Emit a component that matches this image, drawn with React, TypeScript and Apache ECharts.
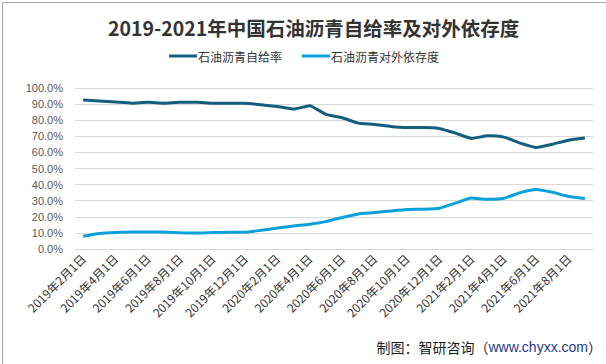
import React, { useEffect, useRef } from "react";
import * as echarts from "echarts";

const categories = [
  "2019年2月1日", "2019年3月1日", "2019年4月1日", "2019年5月1日", "2019年6月1日", "2019年7月1日",
  "2019年8月1日", "2019年9月1日", "2019年10月1日", "2019年11月1日", "2019年12月1日",
  "2020年1月1日", "2020年2月1日", "2020年3月1日", "2020年4月1日", "2020年5月1日", "2020年6月1日",
  "2020年7月1日", "2020年8月1日", "2020年9月1日", "2020年10月1日", "2020年11月1日", "2020年12月1日",
  "2021年1月1日", "2021年2月1日", "2021年3月1日", "2021年4月1日", "2021年5月1日", "2021年6月1日",
  "2021年7月1日", "2021年8月1日", "2021年9月1日",
];

const selfSufficiency = [
  92.5, 91.9, 91.3, 90.6, 91.2, 90.6, 91.2, 91.2, 90.6, 90.6, 90.6,
  89.6, 88.5, 86.9, 89.0, 83.6, 81.5, 78.2, 77.4, 76.1, 75.5, 75.5, 74.9,
  72.0, 68.7, 70.3, 69.5, 65.8, 63.1, 65.1, 67.6, 68.9,
];

const importDependence = [
  7.9, 9.6, 10.3, 10.6, 10.6, 10.6, 10.1, 9.9, 10.2, 10.4, 10.4,
  11.6, 13.0, 14.3, 15.4, 17.0, 19.6, 21.8, 22.6, 23.6, 24.5, 24.7, 25.3,
  28.5, 31.6, 30.9, 31.5, 35.0, 37.0, 35.2, 32.6, 31.3,
];

const seriesNames = ["石油沥青自给率", "石油沥青对外依存度"];
const title = "2019-2021年中国石油沥青自给率及对外依存度";

export default function App() {
  const ref = useRef<HTMLDivElement>(null);
  useEffect(() => {
    document.body.style.margin = "0";
    const chart = echarts.init(ref.current!, null, { renderer: "svg" });
    chart.setOption({
      animation: false,
      backgroundColor: "#ffffff",
      title: {
        text: title,
        left: 103,
        top: 13,
        textStyle: {
          fontFamily: "'Noto Sans CJK SC', sans-serif",
          fontSize: 19.5,
          fontWeight: "bold",
          color: "#333333",
        },
      },
      legend: {
        top: 45,
        left: 164,
        itemWidth: 28,
        itemHeight: 3,
        itemGap: 20,
        icon: "rect",
        textStyle: {
          fontFamily: "'Noto Sans CJK SC', sans-serif",
          fontSize: 12,
          color: "#333333",
          padding: [0, 0, 0, -4],
        },
        data: seriesNames,
      },
      grid: { left: 75, right: 13, top: 88, bottom: 115, containLabel: false },
      xAxis: {
        type: "category",
        data: categories,
        boundaryGap: true,
        axisTick: { show: false },
        axisLine: { lineStyle: { color: "#d9d9d9" } },
        axisLabel: {
          interval: 1,
          rotate: 45,
          fontSize: 12,
          margin: 7,
          color: "#333333",
          fontFamily: "'Noto Sans CJK SC', sans-serif",
        },
      },
      yAxis: {
        type: "value",
        min: 0,
        max: 100,
        interval: 10,
        axisLine: { show: false },
        axisTick: { show: false },
        splitLine: { lineStyle: { color: "#d9d9d9" } },
        axisLabel: {
          formatter: (v: number) => v.toFixed(1) + "%",
          fontSize: 11,
          color: "#595959",
          margin: 12,
          fontFamily: "'Liberation Sans', sans-serif",
        },
      },
      series: [
        {
          name: seriesNames[0],
          type: "line",
          data: selfSufficiency,
          showSymbol: false,
          smooth: 0.15,
          lineStyle: { width: 3, color: "#145E7D" },
          itemStyle: { color: "#145E7D" },
        },
        {
          name: seriesNames[1],
          type: "line",
          data: importDependence,
          showSymbol: false,
          smooth: 0.15,
          lineStyle: { width: 3, color: "#0AA0DA" },
          itemStyle: { color: "#0AA0DA" },
        },
      ],
      graphic: [
        {
          type: "rect",
          left: 0,
          top: 0,
          shape: { width: 605, height: 363 },
          style: { fill: "none", stroke: "#a6a6a6", lineWidth: 1 },
          silent: true,
        },
        {
          type: "text",
          right: 4,
          top: 340,
          style: {
            rich: {
              a: { fontSize: 14, fill: "#1a1a1a", fontFamily: "'Noto Sans CJK SC', sans-serif" },
              b: { fontSize: 14, fill: "#1f3a8a", fontFamily: "'Liberation Sans', sans-serif" },
            },
            text: "{a|制图：智研咨询（}{b|www.chyxx.com}{a|）}",
          },
        },
      ],
    });
    return () => chart.dispose();
  }, []);
  return <div ref={ref} style={{ width: 606, height: 364 }} />;
}
